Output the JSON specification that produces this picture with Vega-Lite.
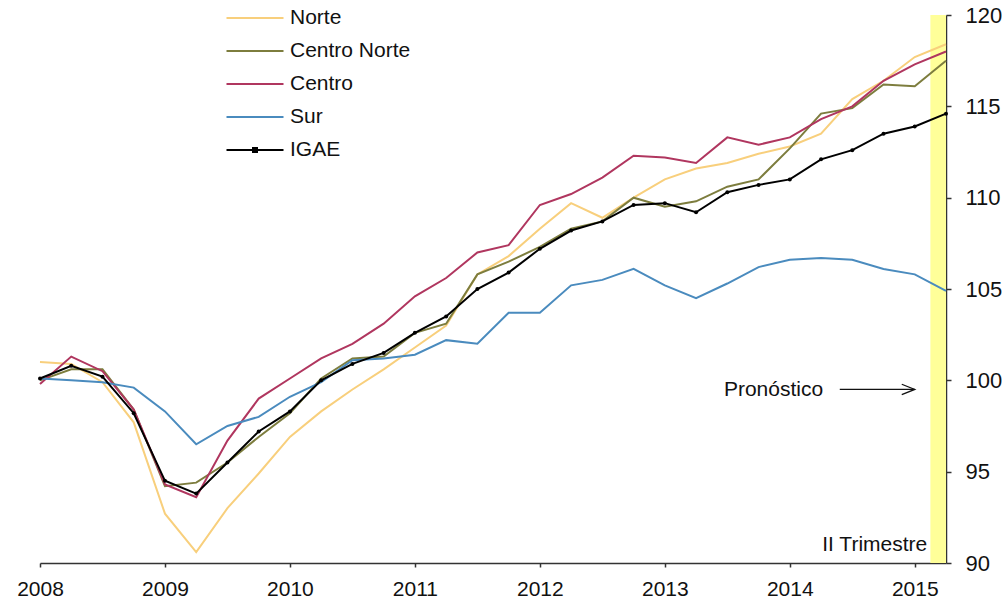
{
  "$schema": "https://vega.github.io/schema/vega-lite/v6.json",
  "width": 906,
  "height": 548,
  "autosize": {"type": "none"},
  "padding": {"left": 40, "top": 15, "right": 62, "bottom": 41},
  "background": "white",
  "config": {
    "view": {"stroke": null},
    "font": "Liberation Sans",
    "axis": {"grid": false, "title": null, "domainColor": "#333", "domainWidth": 1.5, "tickColor": "#333", "tickWidth": 1.5, "labelColor": "#111", "labelFont": "Liberation Sans"}
  },
  "datasets": {
    "series": [
      {"t": 2008.00, "s": "Norte", "v": 101.0}, {"t": 2008.25, "s": "Norte", "v": 100.9}, {"t": 2008.50, "s": "Norte", "v": 99.9}, {"t": 2008.75, "s": "Norte", "v": 97.7},
      {"t": 2009.00, "s": "Norte", "v": 92.7}, {"t": 2009.25, "s": "Norte", "v": 90.6}, {"t": 2009.50, "s": "Norte", "v": 93.0}, {"t": 2009.75, "s": "Norte", "v": 94.9},
      {"t": 2010.00, "s": "Norte", "v": 96.9}, {"t": 2010.25, "s": "Norte", "v": 98.3}, {"t": 2010.50, "s": "Norte", "v": 99.5}, {"t": 2010.75, "s": "Norte", "v": 100.6},
      {"t": 2011.00, "s": "Norte", "v": 101.8}, {"t": 2011.25, "s": "Norte", "v": 103.0}, {"t": 2011.50, "s": "Norte", "v": 105.8}, {"t": 2011.75, "s": "Norte", "v": 106.8},
      {"t": 2012.00, "s": "Norte", "v": 108.3}, {"t": 2012.25, "s": "Norte", "v": 109.7}, {"t": 2012.50, "s": "Norte", "v": 108.9}, {"t": 2012.75, "s": "Norte", "v": 110.0},
      {"t": 2013.00, "s": "Norte", "v": 111.0}, {"t": 2013.25, "s": "Norte", "v": 111.6}, {"t": 2013.50, "s": "Norte", "v": 111.9}, {"t": 2013.75, "s": "Norte", "v": 112.4},
      {"t": 2014.00, "s": "Norte", "v": 112.8}, {"t": 2014.25, "s": "Norte", "v": 113.5}, {"t": 2014.50, "s": "Norte", "v": 115.4}, {"t": 2014.75, "s": "Norte", "v": 116.4},
      {"t": 2015.00, "s": "Norte", "v": 117.7}, {"t": 2015.25, "s": "Norte", "v": 118.4},

      {"t": 2008.00, "s": "Centro Norte", "v": 100.0}, {"t": 2008.25, "s": "Centro Norte", "v": 100.6}, {"t": 2008.50, "s": "Centro Norte", "v": 100.6}, {"t": 2008.75, "s": "Centro Norte", "v": 98.4},
      {"t": 2009.00, "s": "Centro Norte", "v": 94.2}, {"t": 2009.25, "s": "Centro Norte", "v": 94.4}, {"t": 2009.50, "s": "Centro Norte", "v": 95.5}, {"t": 2009.75, "s": "Centro Norte", "v": 96.9},
      {"t": 2010.00, "s": "Centro Norte", "v": 98.2}, {"t": 2010.25, "s": "Centro Norte", "v": 100.1}, {"t": 2010.50, "s": "Centro Norte", "v": 101.2}, {"t": 2010.75, "s": "Centro Norte", "v": 101.3},
      {"t": 2011.00, "s": "Centro Norte", "v": 102.6}, {"t": 2011.25, "s": "Centro Norte", "v": 103.1}, {"t": 2011.50, "s": "Centro Norte", "v": 105.8}, {"t": 2011.75, "s": "Centro Norte", "v": 106.5},
      {"t": 2012.00, "s": "Centro Norte", "v": 107.3}, {"t": 2012.25, "s": "Centro Norte", "v": 108.3}, {"t": 2012.50, "s": "Centro Norte", "v": 108.7}, {"t": 2012.75, "s": "Centro Norte", "v": 110.0},
      {"t": 2013.00, "s": "Centro Norte", "v": 109.5}, {"t": 2013.25, "s": "Centro Norte", "v": 109.8}, {"t": 2013.50, "s": "Centro Norte", "v": 110.6}, {"t": 2013.75, "s": "Centro Norte", "v": 111.0},
      {"t": 2014.00, "s": "Centro Norte", "v": 112.7}, {"t": 2014.25, "s": "Centro Norte", "v": 114.6}, {"t": 2014.50, "s": "Centro Norte", "v": 114.9}, {"t": 2014.75, "s": "Centro Norte", "v": 116.2},
      {"t": 2015.00, "s": "Centro Norte", "v": 116.1}, {"t": 2015.25, "s": "Centro Norte", "v": 117.5},

      {"t": 2008.00, "s": "Centro", "v": 99.8}, {"t": 2008.25, "s": "Centro", "v": 101.3}, {"t": 2008.50, "s": "Centro", "v": 100.5}, {"t": 2008.75, "s": "Centro", "v": 98.4},
      {"t": 2009.00, "s": "Centro", "v": 94.3}, {"t": 2009.25, "s": "Centro", "v": 93.6}, {"t": 2009.50, "s": "Centro", "v": 96.7}, {"t": 2009.75, "s": "Centro", "v": 99.0},
      {"t": 2010.00, "s": "Centro", "v": 100.1}, {"t": 2010.25, "s": "Centro", "v": 101.2}, {"t": 2010.50, "s": "Centro", "v": 102.0}, {"t": 2010.75, "s": "Centro", "v": 103.1},
      {"t": 2011.00, "s": "Centro", "v": 104.6}, {"t": 2011.25, "s": "Centro", "v": 105.6}, {"t": 2011.50, "s": "Centro", "v": 107.0}, {"t": 2011.75, "s": "Centro", "v": 107.4},
      {"t": 2012.00, "s": "Centro", "v": 109.6}, {"t": 2012.25, "s": "Centro", "v": 110.2}, {"t": 2012.50, "s": "Centro", "v": 111.1}, {"t": 2012.75, "s": "Centro", "v": 112.3},
      {"t": 2013.00, "s": "Centro", "v": 112.2}, {"t": 2013.25, "s": "Centro", "v": 111.9}, {"t": 2013.50, "s": "Centro", "v": 113.3}, {"t": 2013.75, "s": "Centro", "v": 112.9},
      {"t": 2014.00, "s": "Centro", "v": 113.3}, {"t": 2014.25, "s": "Centro", "v": 114.3}, {"t": 2014.50, "s": "Centro", "v": 115.0}, {"t": 2014.75, "s": "Centro", "v": 116.4},
      {"t": 2015.00, "s": "Centro", "v": 117.3}, {"t": 2015.25, "s": "Centro", "v": 118.0},

      {"t": 2008.00, "s": "Sur", "v": 100.1}, {"t": 2008.25, "s": "Sur", "v": 100.0}, {"t": 2008.50, "s": "Sur", "v": 99.9}, {"t": 2008.75, "s": "Sur", "v": 99.6},
      {"t": 2009.00, "s": "Sur", "v": 98.3}, {"t": 2009.25, "s": "Sur", "v": 96.5}, {"t": 2009.50, "s": "Sur", "v": 97.5}, {"t": 2009.75, "s": "Sur", "v": 98.0},
      {"t": 2010.00, "s": "Sur", "v": 99.1}, {"t": 2010.25, "s": "Sur", "v": 99.9}, {"t": 2010.50, "s": "Sur", "v": 101.1}, {"t": 2010.75, "s": "Sur", "v": 101.2},
      {"t": 2011.00, "s": "Sur", "v": 101.4}, {"t": 2011.25, "s": "Sur", "v": 102.2}, {"t": 2011.50, "s": "Sur", "v": 102.0}, {"t": 2011.75, "s": "Sur", "v": 103.7},
      {"t": 2012.00, "s": "Sur", "v": 103.7}, {"t": 2012.25, "s": "Sur", "v": 105.2}, {"t": 2012.50, "s": "Sur", "v": 105.5}, {"t": 2012.75, "s": "Sur", "v": 106.1},
      {"t": 2013.00, "s": "Sur", "v": 105.2}, {"t": 2013.25, "s": "Sur", "v": 104.5}, {"t": 2013.50, "s": "Sur", "v": 105.3}, {"t": 2013.75, "s": "Sur", "v": 106.2},
      {"t": 2014.00, "s": "Sur", "v": 106.6}, {"t": 2014.25, "s": "Sur", "v": 106.7}, {"t": 2014.50, "s": "Sur", "v": 106.6}, {"t": 2014.75, "s": "Sur", "v": 106.1},
      {"t": 2015.00, "s": "Sur", "v": 105.8}, {"t": 2015.25, "s": "Sur", "v": 104.9},

      {"t": 2008.00, "s": "IGAE", "v": 100.1}, {"t": 2008.25, "s": "IGAE", "v": 100.8}, {"t": 2008.50, "s": "IGAE", "v": 100.2}, {"t": 2008.75, "s": "IGAE", "v": 98.2},
      {"t": 2009.00, "s": "IGAE", "v": 94.5}, {"t": 2009.25, "s": "IGAE", "v": 93.8}, {"t": 2009.50, "s": "IGAE", "v": 95.5}, {"t": 2009.75, "s": "IGAE", "v": 97.2},
      {"t": 2010.00, "s": "IGAE", "v": 98.3}, {"t": 2010.25, "s": "IGAE", "v": 100.0}, {"t": 2010.50, "s": "IGAE", "v": 100.9}, {"t": 2010.75, "s": "IGAE", "v": 101.5},
      {"t": 2011.00, "s": "IGAE", "v": 102.6}, {"t": 2011.25, "s": "IGAE", "v": 103.5}, {"t": 2011.50, "s": "IGAE", "v": 105.0}, {"t": 2011.75, "s": "IGAE", "v": 105.9},
      {"t": 2012.00, "s": "IGAE", "v": 107.2}, {"t": 2012.25, "s": "IGAE", "v": 108.2}, {"t": 2012.50, "s": "IGAE", "v": 108.7}, {"t": 2012.75, "s": "IGAE", "v": 109.6},
      {"t": 2013.00, "s": "IGAE", "v": 109.7}, {"t": 2013.25, "s": "IGAE", "v": 109.2}, {"t": 2013.50, "s": "IGAE", "v": 110.3}, {"t": 2013.75, "s": "IGAE", "v": 110.7},
      {"t": 2014.00, "s": "IGAE", "v": 111.0}, {"t": 2014.25, "s": "IGAE", "v": 112.1}, {"t": 2014.50, "s": "IGAE", "v": 112.6}, {"t": 2014.75, "s": "IGAE", "v": 113.5},
      {"t": 2015.00, "s": "IGAE", "v": 113.9}, {"t": 2015.25, "s": "IGAE", "v": 114.6}
    ]
  },
  "layer": [
    {
      "data": {"values": [{}]},
      "mark": {"type": "rect", "color": "#FFFF99", "opacity": 1},
      "encoding": {
        "x": {"datum": 2015.125, "type": "quantitative"},
        "x2": {"datum": 2015.25},
        "y": {"datum": 90, "type": "quantitative"},
        "y2": {"datum": 120}
      }
    },
    {
      "data": {"name": "series"},
      "transform": [{"filter": "datum.s !== 'IGAE'"}],
      "mark": {"type": "line", "strokeWidth": 2},
      "encoding": {
        "x": {"field": "t", "type": "quantitative", "scale": {"domain": [2008, 2015.25], "nice": false, "zero": false},
          "axis": {"orient": "bottom", "values": [2008, 2009, 2010, 2011, 2012, 2013, 2014, 2015], "format": "d", "tickSize": 4, "labelFontSize": 21, "labelPadding": 11, "labelFlush": false}},
        "y": {"field": "v", "type": "quantitative", "scale": {"domain": [90, 120], "nice": false, "zero": false},
          "axis": {"orient": "right", "values": [90, 95, 100, 105, 110, 115, 120], "tickSize": 5, "labelFontSize": 22, "labelPadding": 14, "labelBaseline": "middle", "labelFlush": false}},
        "color": {"field": "s", "type": "nominal",
          "scale": {"domain": ["Norte", "Centro Norte", "Centro", "Sur", "IGAE"], "range": ["#F8CF7C", "#7D7D3E", "#B0365F", "#4A8BBE", "#000000"]},
          "legend": {
            "title": null, "orient": "none", "legendX": 204, "legendY": -8, "padding": 0,
            "symbolType": "M-3,0L3,0", "symbolSize": 361, "symbolStrokeWidth": 2.2,
            "labelFontSize": 21, "labelOffset": 24, "labelColor": "#111", "rowPadding": 12,
            "encode": {"symbols": {"update": {
              "shape": {"signal": "datum.value === 'IGAE' ? 'M-3,0L3,0M-0.2,-0.2L0.2,-0.2L0.2,0.2L-0.2,0.2Z' : 'M-3,0L3,0'"},
              "fill": {"signal": "datum.value === 'IGAE' ? '#000' : 'transparent'"}
            }}}
          }},
        "order": {"field": "t", "type": "quantitative"}
      }
    },
    {
      "data": {"name": "series"},
      "transform": [{"filter": "datum.s === 'IGAE'"}],
      "mark": {"type": "line", "strokeWidth": 2, "point": {"filled": true, "size": 16, "color": "#000"}},
      "encoding": {
        "x": {"field": "t", "type": "quantitative"},
        "y": {"field": "v", "type": "quantitative"},
        "color": {"field": "s", "type": "nominal"},
        "order": {"field": "t", "type": "quantitative"}
      }
    },
    {
      "data": {"values": [{}]},
      "mark": {"type": "text", "align": "center", "baseline": "middle", "fontSize": 21, "color": "#111"},
      "encoding": {
        "x": {"datum": 2013.87, "type": "quantitative"},
        "y": {"datum": 99.45, "type": "quantitative"},
        "text": {"value": "Pronóstico"}
      }
    },
    {
      "data": {"values": [{}]},
      "mark": {"type": "rule", "color": "#111", "strokeWidth": 1.3},
      "encoding": {
        "x": {"datum": 2014.4, "type": "quantitative"},
        "x2": {"datum": 2015.0},
        "y": {"datum": 99.5, "type": "quantitative"}
      }
    },
    {
      "data": {"values": [{}]},
      "mark": {"type": "point", "shape": "M-2,-0.8L0,0L-2,0.8", "size": 169, "filled": false, "stroke": "#111", "strokeWidth": 1.3, "opacity": 1},
      "encoding": {
        "x": {"datum": 2015.0, "type": "quantitative"},
        "y": {"datum": 99.5, "type": "quantitative"}
      }
    },
    {
      "data": {"values": [{}]},
      "mark": {"type": "text", "align": "right", "baseline": "middle", "fontSize": 21, "color": "#111"},
      "encoding": {
        "x": {"datum": 2015.1, "type": "quantitative"},
        "y": {"datum": 91.0, "type": "quantitative"},
        "text": {"value": "II Trimestre"}
      }
    }
  ]
}
